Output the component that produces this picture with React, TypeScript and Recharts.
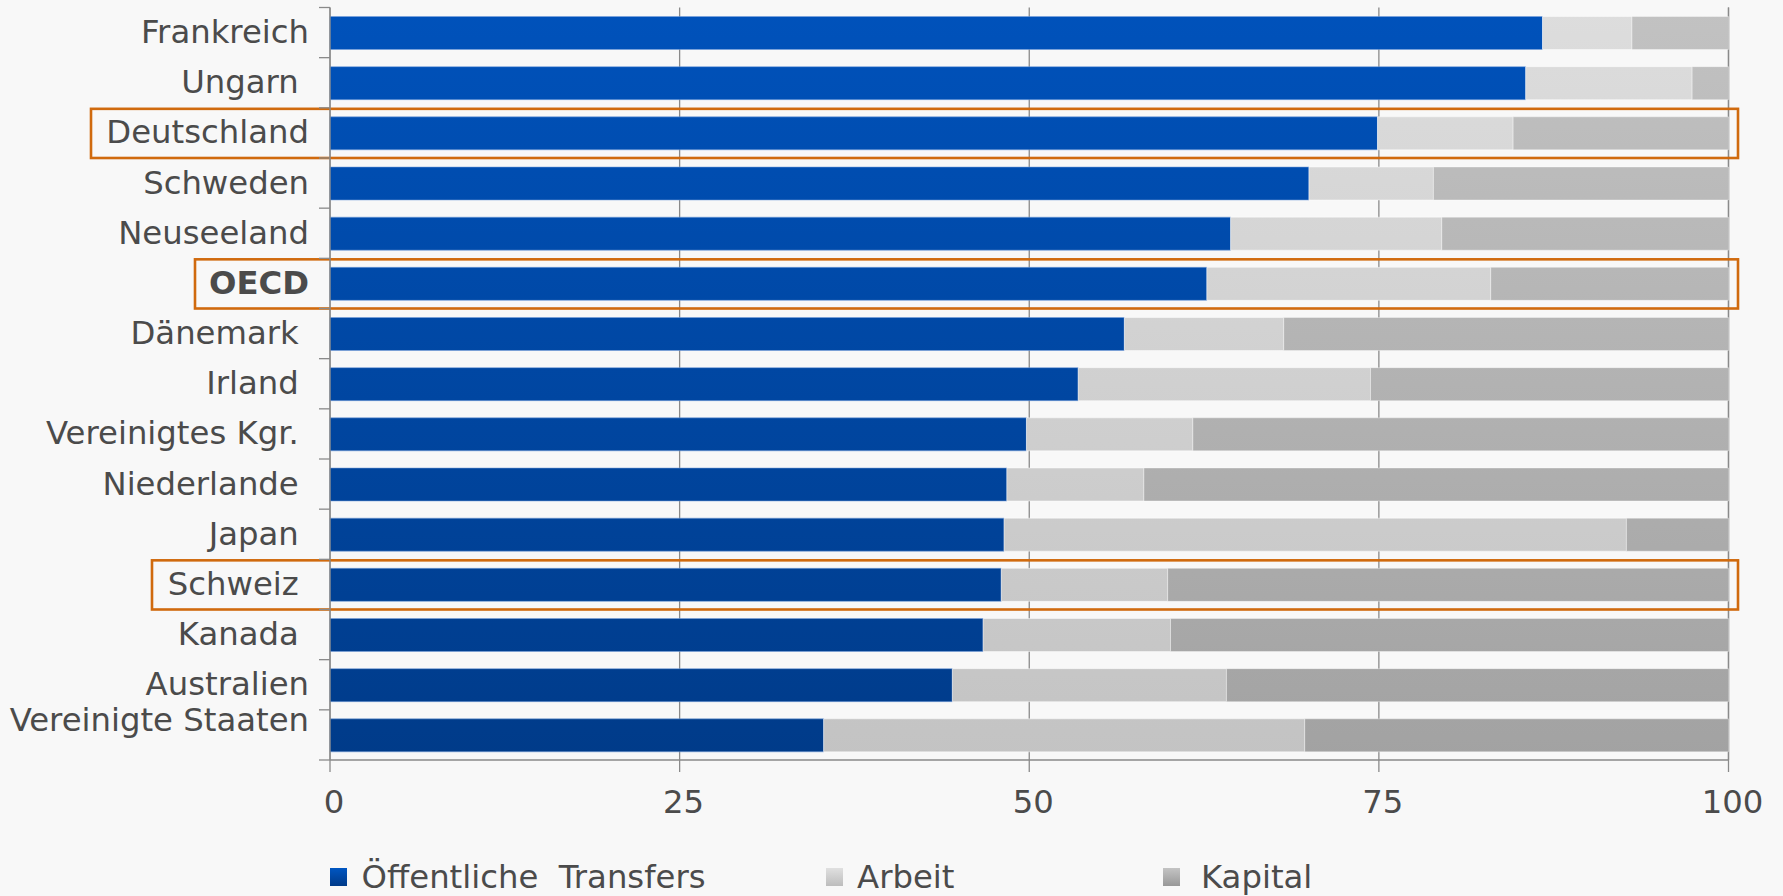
import React from 'react';
import { BarChart, Bar, XAxis, YAxis, CartesianGrid, ReferenceArea } from 'recharts';

// ---------- data ----------
const countries = [
  'Frankreich',
  'Ungarn ',
  'Deutschland',
  'Schweden',
  'Neuseeland',
  'OECD',
  'Dänemark ',
  'Irland ',
  'Vereinigtes Kgr. ',
  'Niederlande ',
  'Japan ',
  'Schweiz ',
  'Kanada ',
  'Australien',
  'Vereinigte Staaten\n',
];
const transfers = [86.7, 85.5, 74.9, 70.0, 64.4, 62.7, 56.8, 53.5, 49.8, 48.4, 48.2, 48.0, 46.7, 44.5, 35.3];
const arbeit = [6.4, 11.9, 9.7, 8.9, 15.1, 20.3, 11.4, 20.9, 11.9, 9.8, 44.5, 11.9, 13.4, 19.6, 34.4];
const kapital = [6.9, 2.6, 15.4, 21.1, 20.5, 17.0, 31.8, 25.6, 38.3, 41.8, 7.3, 40.1, 39.9, 35.9, 30.3];
const seriesNames = ['Öffentliche  Transfers', 'Arbeit', 'Kapital'];
const xTicks = [0, 25, 50, 75, 100];
const highlighted = ['Deutschland', 'OECD', 'Schweiz '];
const boldCategories = ['OECD'];

const data = countries.map((name, i) => ({
  name,
  transfers: transfers[i],
  arbeit: arbeit[i],
  kapital: kapital[i],
}));

// ---------- style ----------
const W = 1783;
const H = 896;
const FONT = '"DejaVu Sans", Verdana, sans-serif';
const TEXT = '#4b4b4b';
const AXIS = '#8a8a8a';
const FS = 32.3;
const Y_TICK = 11;
const Y_MARGIN = 10;
const LINE_H = 28;
const BOX_COLOR = '#d06a0e';
const BOX_RIGHT = 9.5;
const boxLeftExtend: Record<string, number> = { Deutschland: 239, OECD: 135, 'Schweiz ': 178 };
const PLOT_TOP = 7.5;
const PLOT_BOTTOM = 760;

const legendItems = [
  { left: 330, grad: 'linear-gradient(#0056c2, #003a88)', gap: 14.6 },
  { left: 825.5, grad: 'linear-gradient(#e0e0e0, #bdbdbd)', gap: 14.6 },
  { left: 1163, grad: 'linear-gradient(#c4c4c4, #989898)', gap: 21 },
];

const YTick = (props: any) => {
  const { x, y, payload, index, visibleTicksCount } = props;
  const half = payload && typeof payload.offset === 'number' && payload.offset > 0 ? payload.offset : (PLOT_BOTTOM - PLOT_TOP) / 30;
  const label = String(payload.value);
  const lines = label.split('\n');
  const bold = boldCategories.includes(label.trim());
  const axisX = x + Y_MARGIN + Y_TICK;
  const baseY = y + 10.5 - ((lines.length - 1) * LINE_H) / 2;
  return (
    <g>
      <line x1={axisX - Y_TICK} x2={axisX} y1={y - half} y2={y - half} stroke={AXIS} strokeWidth={1.3} />
      {index === visibleTicksCount - 1 && (
        <line x1={axisX - Y_TICK} x2={axisX} y1={y + half} y2={y + half} stroke={AXIS} strokeWidth={1.3} />
      )}
      <text
        x={x}
        y={baseY}
        textAnchor="end"
        xmlSpace="preserve"
        style={{ whiteSpace: 'pre' }}
        fill={TEXT}
        fontSize={FS}
        fontFamily={FONT}
        fontWeight={bold ? 'bold' : 'normal'}
      >
        {lines.map((l, i) => (
          <tspan key={i} x={x} dy={i === 0 ? 0 : LINE_H}>
            {l}
          </tspan>
        ))}
      </text>
    </g>
  );
};

const XTick = (props: any) => {
  const { x, y, payload } = props;
  return (
    <text x={x + 4} y={y} dy="0.71em" textAnchor="middle" fill={TEXT} fontSize={FS} fontFamily={FONT}>
      {payload.value}
    </text>
  );
};

const makeBox = (extendLeft: number) => (props: any) => {
  const { x, y, width, height } = props;
  return (
    <rect
      x={x - extendLeft}
      y={y + 1}
      width={width + extendLeft + BOX_RIGHT}
      height={height - 1}
      fill="none"
      stroke={BOX_COLOR}
      strokeWidth={2.6}
    />
  );
};

export default function App() {
  return (
    <div style={{ position: 'absolute', left: 0, top: 0, width: W, height: H, background: '#f8f8f8', overflow: 'hidden' }}>
      <BarChart
        width={W}
        height={H}
        data={data}
        layout="vertical"
        margin={{ top: PLOT_TOP, right: W - 1728.5, left: 0, bottom: H - PLOT_BOTTOM - 60 }}
        barSize={33}
      >
        <defs>
          <linearGradient id="gBlue" gradientUnits="userSpaceOnUse" x1="0" y1={PLOT_TOP} x2="0" y2={PLOT_BOTTOM}>
            <stop offset="0%" stopColor="#0052bb" />
            <stop offset="100%" stopColor="#003b89" />
          </linearGradient>
          <linearGradient id="gArbeit" gradientUnits="userSpaceOnUse" x1="0" y1={PLOT_TOP} x2="0" y2={PLOT_BOTTOM}>
            <stop offset="0%" stopColor="#dddddd" />
            <stop offset="100%" stopColor="#c3c3c3" />
          </linearGradient>
          <linearGradient id="gKapital" gradientUnits="userSpaceOnUse" x1="0" y1={PLOT_TOP} x2="0" y2={PLOT_BOTTOM}>
            <stop offset="0%" stopColor="#c2c2c2" />
            <stop offset="100%" stopColor="#a2a2a2" />
          </linearGradient>
        </defs>
        <CartesianGrid horizontal={false} vertical stroke={AXIS} strokeWidth={1.3} />
        <XAxis
          type="number"
          domain={[0, 100]}
          ticks={xTicks}
          interval={0}
          height={60}
          tickSize={12}
          tickMargin={18}
          axisLine={{ stroke: AXIS, strokeWidth: 1.3 }}
          tickLine={{ stroke: AXIS, strokeWidth: 1.3 }}
          tick={<XTick />}
        />
        <YAxis
          type="category"
          dataKey="name"
          width={330}
          interval={0}
          tickSize={Y_TICK}
          tickMargin={Y_MARGIN}
          tickLine={false}
          axisLine={{ stroke: AXIS, strokeWidth: 1.3 }}
          tick={<YTick />}
        />
        <Bar dataKey="transfers" name={seriesNames[0]} stackId="a" fill="url(#gBlue)" stroke="rgba(120,160,220,0.55)" strokeWidth={1} isAnimationActive={false} />
        <Bar dataKey="arbeit" name={seriesNames[1]} stackId="a" fill="url(#gArbeit)" stroke="rgba(255,255,255,0.45)" strokeWidth={1} isAnimationActive={false} />
        <Bar dataKey="kapital" name={seriesNames[2]} stackId="a" fill="url(#gKapital)" stroke="rgba(255,255,255,0.35)" strokeWidth={1} isAnimationActive={false} />
        {highlighted.map((c) => (
          <ReferenceArea key={c} y1={c} y2={c} ifOverflow="visible" shape={makeBox(boxLeftExtend[c] ?? 0)} />
        ))}
      </BarChart>
      {seriesNames.map((s, i) => (
        <div
          key={s}
          style={{
            position: 'absolute',
            left: legendItems[i].left,
            top: 859,
            height: 36,
            display: 'flex',
            alignItems: 'center',
            fontFamily: FONT,
            fontSize: FS,
            lineHeight: '36px',
            color: TEXT,
            whiteSpace: 'pre',
          }}
        >
          <span style={{ display: 'inline-block', width: 17, height: 18, background: legendItems[i].grad, marginRight: legendItems[i].gap }} />
          <span>{s}</span>
        </div>
      ))}
    </div>
  );
}
